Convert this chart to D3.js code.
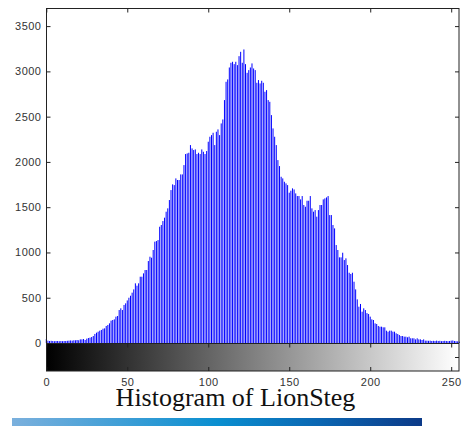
<!DOCTYPE html>
<html>
<head>
<meta charset="utf-8">
<script src="https://cdn.jsdelivr.net/npm/d3@7"></script>
<style>
  body { margin: 0; background: #fff; }
  .axis text { font-family: "Liberation Sans", Arial, sans-serif; font-size: 11px; fill: #333; letter-spacing: 0.5px; }
  .axis line { stroke: #222; }
  .axis path { display: none; }
</style>
</head>
<body>
<div class="article"></div>
<script>
// gray level counts 0..255
var counts = [
  44, 26, 22, 24, 22, 20, 22, 22, 20, 22, 20, 22, 22, 24, 26, 28,
  26, 30, 30, 33, 30, 40, 40, 44, 33, 48, 55, 59, 66, 77, 100, 114,
  125, 136, 144, 158, 162, 188, 199, 217, 247, 254, 261, 291, 298, 364, 383, 364,
  420, 438, 470, 500, 522, 556, 592, 659, 633, 659, 732, 732, 769, 806, 806, 905,
  953, 942, 1027, 1119, 1126, 1137, 1284, 1303, 1347, 1384, 1450, 1487, 1579, 1689, 1752, 1744,
  1818, 1800, 1800, 1862, 1862, 1965, 2087, 2094, 2101, 2186, 2149, 2131, 2138, 2087, 2101, 2087,
  2138, 2112, 2087, 2120, 2223, 2278, 2296, 2322, 2186, 2333, 2359, 2296, 2425, 2469, 2683, 2885,
  2911, 3043, 3095, 3106, 3080, 3106, 3069, 3168, 3216, 3095, 3242, 3080, 2984, 3014, 3043, 3088,
  3032, 3014, 2874, 2904, 2867, 2896, 2874, 2775, 2793, 2683, 2664, 2517, 2370, 2278, 2186, 2020,
  1954, 1836, 1818, 1781, 1763, 1744, 1660, 1682, 1708, 1696, 1652, 1623, 1623, 1586, 1623, 1524,
  1505, 1571, 1571, 1623, 1487, 1450, 1468, 1395, 1468, 1524, 1524, 1586, 1597, 1608, 1623, 1413,
  1413, 1303, 1266, 1082, 1027, 946, 946, 997, 916, 935, 861, 776, 762, 776, 677, 592,
  482, 401, 431, 346, 383, 364, 330, 320, 291, 261, 254, 217, 210, 188, 180, 180,
  173, 173, 136, 125, 136, 136, 125, 125, 107, 99, 88, 77, 77, 70, 70, 63,
  70, 52, 52, 52, 40, 52, 40, 40, 33, 40, 26, 26, 24, 26, 22, 24,
  22, 26, 22, 24, 20, 22, 24, 22, 20, 22, 26, 28, 22, 20, 18, 15
];
var xTicks = [0, 50, 100, 150, 200, 250];
var yTicks = [0, 500, 1000, 1500, 2000, 2500, 3000, 3500];
var titleText = "Histogram of LionSteg";

var svgWidth = 469;
var svgHeight = 426;

// histogram box, colorbar sits right under it
var plotLeft = 46.3, plotRight = 459.3, plotTop = 8, zeroY = 343, barBottom = 371;

var svg = d3.select(".article")
  .append("svg")
  .attr("width", svgWidth)
  .attr("height", svgHeight);

var xScale = d3.scaleLinear().domain([0, 255]).range([plotLeft, plotRight]);
var yScale = d3.scaleLinear().domain([0, 3700]).range([zeroY, plotTop]);

var defs = svg.append("defs");

// grayscale ramp for the colorbar
var gray = defs.append("linearGradient")
  .attr("id", "gray")
  .attr("gradientUnits", "userSpaceOnUse")
  .attr("x1", xScale(0)).attr("x2", xScale(255))
  .attr("y1", 0).attr("y2", 0);
gray.append("stop").attr("offset", "0%").attr("stop-color", "#000");
gray.append("stop").attr("offset", "100%").attr("stop-color", "#fff");

// blue strip under the title
var strip = defs.append("linearGradient").attr("id", "strip");
strip.append("stop").attr("offset", "0%").attr("stop-color", "#7bb0dd");
strip.append("stop").attr("offset", "50%").attr("stop-color", "#0a8fd0");
strip.append("stop").attr("offset", "75%").attr("stop-color", "#0b66b2");
strip.append("stop").attr("offset", "100%").attr("stop-color", "#0c3a88");

// stems
svg.append("g")
  .selectAll("line")
  .data(counts)
  .enter()
  .append("line")
  .attr("x1", (d, i) => xScale(i))
  .attr("x2", (d, i) => xScale(i))
  .attr("y1", yScale(0))
  .attr("y2", d => yScale(d))
  .attr("stroke", "#0000ff")
  .attr("stroke-width", 1);

// colorbar
svg.append("rect")
  .attr("x", xScale(0))
  .attr("y", zeroY)
  .attr("width", xScale(255) - xScale(0))
  .attr("height", barBottom - zeroY)
  .attr("fill", "url(#gray)");

// frame
svg.append("rect")
  .attr("x", 46.5)
  .attr("y", plotTop + 0.5)
  .attr("width", 459 - 46.5)
  .attr("height", barBottom - plotTop - 0.5)
  .attr("fill", "none")
  .attr("stroke", "#222");
svg.append("line")
  .attr("x1", 46.5).attr("x2", 459)
  .attr("y1", zeroY + 0.5).attr("y2", zeroY + 0.5)
  .attr("stroke", "#222");

var fmt = d3.format("d");

// y axis, ticks inward
svg.append("g")
  .classed("axis", true)
  .attr("transform", "translate(46.5,0)")
  .call(d3.axisLeft(yScale).tickValues(yTicks).tickFormat(fmt).tickSize(-4).tickPadding(5));

svg.append("g")
  .classed("axis", true)
  .attr("transform", "translate(459,0)")
  .call(d3.axisRight(yScale).tickValues(yTicks).tickSize(-4).tickFormat(""));

// top ticks
svg.append("g")
  .classed("axis", true)
  .attr("transform", `translate(0,${plotTop + 0.5})`)
  .call(d3.axisTop(xScale).tickValues(xTicks).tickSize(-4).tickFormat(""));

// colorbar ticks and labels
svg.append("g")
  .classed("axis", true)
  .attr("transform", `translate(0,${zeroY + 0.5})`)
  .call(d3.axisTop(xScale).tickValues(xTicks).tickSize(-4).tickFormat(""));

svg.append("g")
  .classed("axis", true)
  .attr("transform", `translate(0,${barBottom})`)
  .call(d3.axisBottom(xScale).tickValues(xTicks).tickFormat(fmt).tickSize(-4).tickPadding(7));

var cbScale = d3.scaleLinear().domain([0, 1]).range([barBottom, zeroY]);
svg.append("g")
  .classed("axis", true)
  .attr("transform", "translate(459,0)")
  .call(d3.axisRight(cbScale).tickValues([0.5]).tickSize(-4).tickFormat(""));

// title
svg.append("text")
  .attr("x", 235.5)
  .attr("y", 406)
  .attr("text-anchor", "middle")
  .style("font-family", "'Liberation Serif', 'Times New Roman', serif")
  .style("font-size", "26px")
  .style("fill", "#111")
  .text(titleText);

svg.append("rect")
  .attr("x", 12)
  .attr("y", 418)
  .attr("width", 410)
  .attr("height", 8)
  .attr("fill", "url(#strip)");
</script>
</body>
</html>
